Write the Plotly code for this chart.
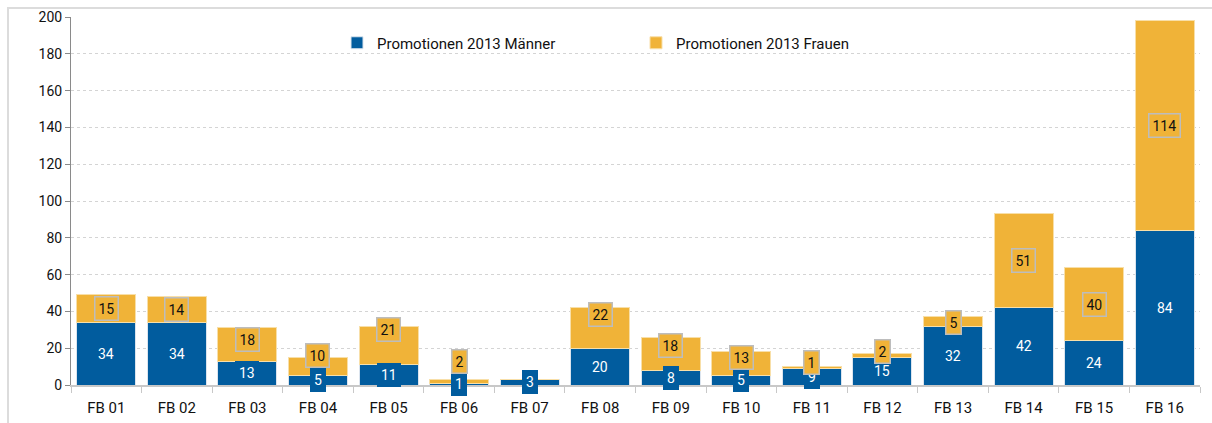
import plotly.graph_objects as go

categories = ["FB 01", "FB 02", "FB 03", "FB 04", "FB 05", "FB 06", "FB 07", "FB 08",
              "FB 09", "FB 10", "FB 11", "FB 12", "FB 13", "FB 14", "FB 15", "FB 16"]
maenner = [34, 34, 13, 5, 11, 1, 3, 20, 8, 5, 9, 15, 32, 42, 24, 84]
frauen = [15, 14, 18, 10, 21, 2, 0, 22, 18, 13, 1, 2, 5, 51, 40, 114]
y_ticks = [0, 20, 40, 60, 80, 100, 120, 140, 160, 180, 200]

# style: upward nudge (px) of the women's label boxes, as placed in the original
label_nudge_px = [0, 0, 5, 11, 16, 20, 0, 13, 8, 6, 5, 4, -1, 0, 0, 0]

BLUE = "#015C9E"
ORANGE = "#F0B338"
FONT = "Roboto, Liberation Sans Narrow, sans-serif"

W, H = 1212, 423
ML, MR, MT, MB = 71, 12, 17, 38

fig = go.Figure()
fig.add_trace(go.Bar(x=categories, y=maenner, name="Promotionen 2013 Männer",
                     marker=dict(color=BLUE, line=dict(color="#dbe4ee", width=1))))
fig.add_trace(go.Bar(x=categories, y=frauen, name="Promotionen 2013 Frauen",
                     marker=dict(color=ORANGE, line=dict(color="#f8dfa8", width=1))))

for c, m, f, nud in zip(categories, maenner, frauen, label_nudge_px):
    fig.add_annotation(x=c, y=m / 2, text=str(m), showarrow=False,
                       font=dict(family=FONT, size=14, color="white"),
                       bgcolor=BLUE, borderpad=4, borderwidth=0)
    if f > 0:
        fig.add_annotation(x=c, y=m + f / 2, text=str(f), showarrow=False, yshift=nud,
                           font=dict(family=FONT, size=14, color="#111"),
                           bgcolor=ORANGE, bordercolor="#bdbdbd", borderwidth=1.5, borderpad=3)

pw = W - ML - MR
ph = H - MT - MB
fig.add_shape(type="rect", xref="paper", yref="paper",
              x0=(8 - ML) / pw, x1=(W + 5 - ML) / pw,
              y0=(H - MB - (H + 5)) / ph, y1=(H - MB - 8) / ph,
              line=dict(color="#dcdcdc", width=2), layer="below")

fig.update_layout(
    barmode="stack", bargap=0.164,
    width=W, height=H,
    margin=dict(l=ML, r=MR, t=MT, b=MB, autoexpand=False),
    paper_bgcolor="white", plot_bgcolor="white",
    font=dict(family=FONT, size=15, color="#222"),
    showlegend=True,
    legend=dict(orientation="h", traceorder="normal",
                x=(337 - ML) / pw, y=(H - MB - 43) / ph,
                xanchor="left", yanchor="middle",
                entrywidth=254, entrywidthmode="pixels",
                font=dict(family=FONT, size=15, color="#111"),
                bgcolor="rgba(0,0,0,0)", itemclick=False),
)
fig.update_xaxes(showgrid=False, showline=True, linecolor="#c8c8c8", linewidth=1.5,
                 ticks="outside", tickson="boundaries", ticklen=6, tickcolor="#c8c8c8",
                 ticklabelstandoff=8,
                 tickfont=dict(family=FONT, size=15, color="#111"),
                 range=[-0.5, 15.5])
fig.update_yaxes(range=[0, 200], tickvals=y_ticks, showgrid=True, gridcolor="#d4d4d4",
                 griddash="dot", gridwidth=1, showline=True, linecolor="#8a8a8a", linewidth=1,
                 ticks="outside", ticklen=5, tickcolor="#8a8a8a", zeroline=False,
                 tickfont=dict(family=FONT, size=14, color="#111"))

fig.write_html("out.html", config={"displayModeBar": False},
               post_script="document.body.style.margin='0';document.body.style.overflow='hidden';")
